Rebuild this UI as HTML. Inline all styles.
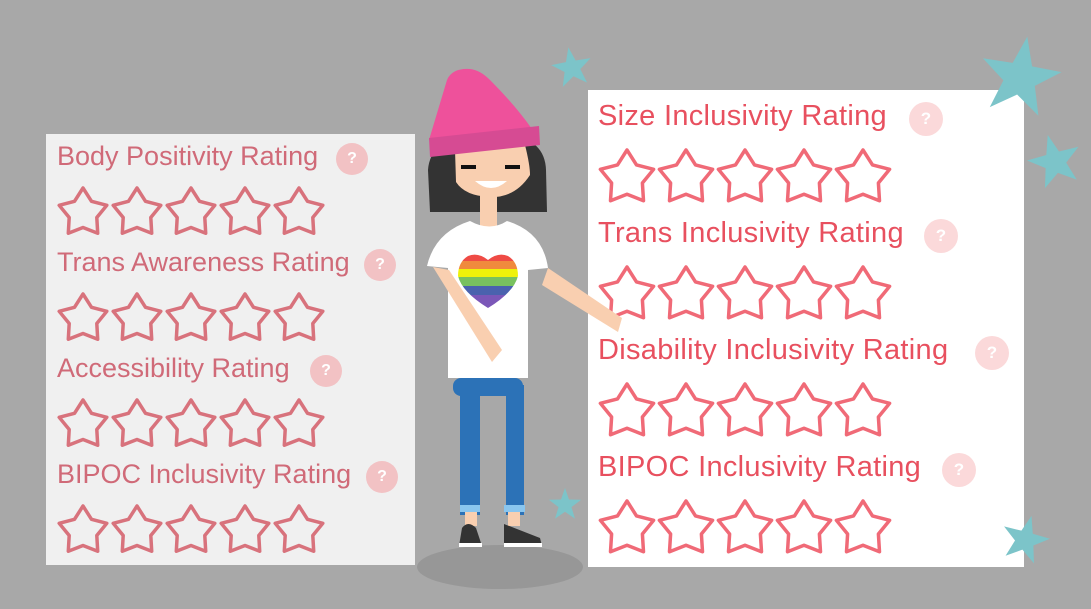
<!DOCTYPE html>
<html><head><meta charset="utf-8"><style>
html,body{margin:0;padding:0}
body{width:1091px;height:609px;background:#a8a8a8;position:relative;overflow:hidden;font-family:"Liberation Sans",sans-serif}
.panel{position:absolute}
.t{position:absolute;white-space:nowrap}
.q{position:absolute;border-radius:50%;color:#fff;text-align:center;font-weight:bold}
</style></head><body>
<div class="panel" style="left:46px;top:134px;width:369px;height:431px;background:#f0f0f0"></div>
<div class="panel" style="left:588px;top:90px;width:436px;height:477px;background:#fff"></div>

<div id="labels"></div>
<svg id="stars" width="1091" height="609" style="position:absolute;left:0;top:0"></svg>

<svg width="1091" height="609" style="position:absolute;left:0;top:0">
  <defs>
    <polygon id="tstar" points="0,-1 0.235,-0.324 0.951,-0.309 0.38,0.124 0.588,0.809 0,0.4 -0.588,0.809 -0.38,0.124 -0.951,-0.309 -0.235,-0.324"/>
  </defs>
  <g fill="#7cc4c9">
    <use href="#tstar" transform="translate(572,68) scale(21) rotate(-10)"/>
    <use href="#tstar" transform="translate(1020,78) scale(42) rotate(10)"/>
    <use href="#tstar" transform="translate(1055,162) scale(28) rotate(-15)"/>
    <use href="#tstar" transform="translate(565,505) scale(17)"/>
    <use href="#tstar" transform="translate(1025,540) scale(25) rotate(15)"/>
  </g>
  <g>
    <ellipse cx="500" cy="567" rx="83" ry="22" fill="#979797"/>
    <path d="M430 212 L428 170 Q430 140 470 135 L510 135 Q545 140 546 170 L547 212 Z" fill="#333"/>
    <path d="M455 150 L525 145 Q530 165 530 175 Q515 198 490 197 Q465 196 456 182 Z" fill="#f9cfb0"/>
    <rect x="461" y="165" width="15" height="4" fill="#111"/><rect x="505" y="165" width="15" height="4" fill="#111"/>
    <path d="M475 181 Q491 195 507 181 Z" fill="#fff"/>
    <path d="M429 140 L447 80 Q452 68 470 69 Q480 70 490 80 Q520 110 538 138 Z" fill="#ee519b"/>
    <path d="M429 138 L539 126 L540 145 L430 157 Z" fill="#d64b93"/>
    <rect x="480" y="195" width="17" height="32" fill="#f9cfb0"/>
    <path d="M622 318 L548 268 L542 285 L618 332 Z" fill="#f9cfb0"/>
    <rect x="453" y="378" width="70" height="18" rx="8" fill="#2c72b7"/>
    <rect x="460" y="385" width="20" height="130" fill="#2c72b7"/><rect x="506" y="385" width="18" height="130" fill="#2c72b7"/>
    <rect x="460" y="505" width="20" height="7" fill="#8ac6ef"/><rect x="504" y="505" width="21" height="7" fill="#8ac6ef"/>
    <rect x="465" y="512" width="12" height="14" fill="#f9cfb0"/><rect x="508" y="512" width="12" height="14" fill="#f9cfb0"/>
    <path d="M459 546 L462 528 Q468 520 476 528 L482 546 Z" fill="#333"/><rect x="459" y="543" width="23" height="4" fill="#fff"/>
    <path d="M504 546 L504 524 L540 538 L542 546 Z" fill="#333"/><rect x="504" y="543" width="38" height="4" fill="#fff"/>
    <path d="M448 378 L448 268 L427 266 Q435 232 470 221 Q490 232 507 221 Q543 232 548 268 L528 270 L528 378 Z" fill="#fff"/>
    <path d="M433 267 L449 270 L502 350 L492 362 Z" fill="#f9cfb0"/>
    <g>
      <clipPath id="hc"><path d="M488 260 Q478 252 468 256 Q458 262 458 276 Q462 292 488 308 Q514 292 518 276 Q518 262 508 256 Q498 252 488 260 Z"/></clipPath>
      <g clip-path="url(#hc)">
        <rect x="455" y="252" width="66" height="9" fill="#ef4b45"/>
        <rect x="455" y="261" width="66" height="8" fill="#f08a3d"/>
        <rect x="455" y="269" width="66" height="8" fill="#eef20a"/>
        <rect x="455" y="277" width="66" height="9" fill="#78c15f"/>
        <rect x="455" y="286" width="66" height="9" fill="#4a62ae"/>
        <rect x="455" y="295" width="66" height="15" fill="#7b57b8"/>
      </g>
    </g>
  </g>
</svg>

<script>
const leftTitles=["Body Positivity Rating","Trans Awareness Rating","Accessibility Rating","BIPOC Inclusivity Rating"];
const rightTitles=["Size Inclusivity Rating","Trans Inclusivity Rating","Disability Inclusivity Rating","BIPOC Inclusivity Rating"];
const leftQX=[352,380,326,382];
const rightQX=[926,941,992,959];
const L=document.getElementById('labels');
const S=document.getElementById('stars');
function starPts(cx,cy,r){let p=[];for(let i=0;i<10;i++){const a=-Math.PI/2+i*Math.PI/5;const rr=i%2?r*0.58:r;p.push((cx+rr*Math.cos(a)).toFixed(1)+','+(cy+3+rr*Math.sin(a)).toFixed(1));}return p.join(' ');}
function block(titles,qx,o){
  titles.forEach((t,i)=>{
    const d=document.createElement('div');d.className='t';d.textContent=t;
    d.style.cssText=`left:${o.x}px;top:${o.ty+i*o.dy-o.fs*0.6}px;font-size:${o.fs}px;color:${o.col};letter-spacing:${o.ls}px`;
    
    
    L.appendChild(d);
    const q=document.createElement('div');q.className='q';q.textContent='?';
    q.style.cssText=`left:${qx[i]-o.qr}px;top:${o.ty+i*o.dy+2-o.qr}px;width:${o.qr*2}px;height:${o.qr*2}px;line-height:${o.qr*2}px;background:${o.qc};font-size:${o.qr}px`;
    
    
    L.appendChild(q);
    for(let k=0;k<5;k++){
      const s=document.createElementNS('http://www.w3.org/2000/svg','polygon');
      s.setAttribute('points',starPts(o.sx+k*o.sp,o.sy+i*o.dy,o.sr));
      s.setAttribute('fill','none');s.setAttribute('stroke',o.sc);s.setAttribute('stroke-width',o.sw);s.setAttribute('stroke-linejoin','round');
      
      
      S.appendChild(s);
    }
  });
}
block(leftTitles,leftQX,{x:57,ty:157,dy:106,fs:27,ls:0,col:'#d06a78',qc:'#f2c2c4',qr:16,sx:83,sp:54,sy:210,sr:25,sc:'#d8727c',sw:3.5});
block(rightTitles,rightQX,{x:598,ty:117,dy:117,fs:29,ls:0.3,col:'#e8505f',qc:'#fbd9da',qr:17,sx:627,sp:59,sy:175,sr:28,sc:'#f06a77',sw:3.5});
</script>
</body></html>
